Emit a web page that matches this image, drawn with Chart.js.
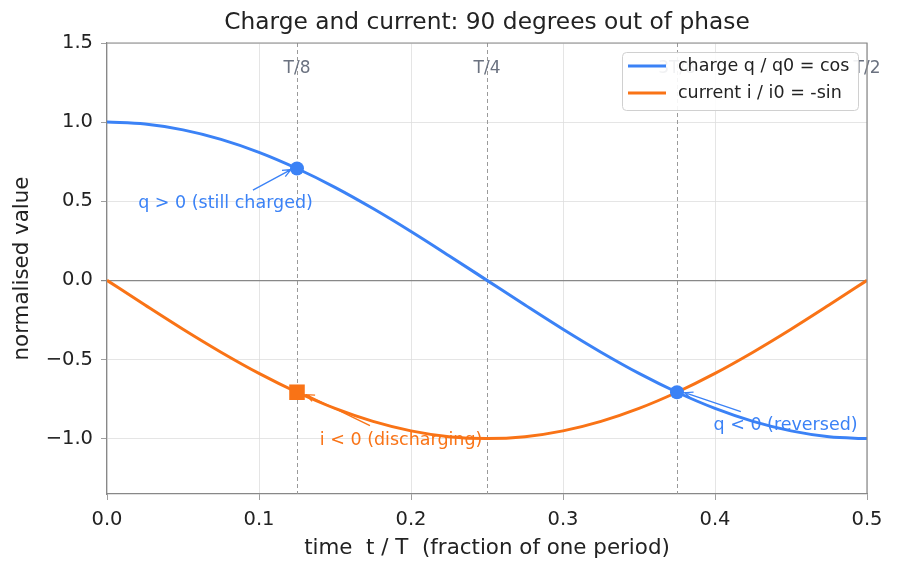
<!DOCTYPE html>
<html>
<head>
<meta charset="utf-8">
<script src="https://cdn.jsdelivr.net/npm/chart.js@4.4.1/dist/chart.umd.min.js"></script>
<style>
  html, body { margin: 0; padding: 0; background: #fff; }
  #wrap { width: 897px; height: 571px; }
</style>
</head>
<body>
<div id="wrap"><canvas id="phaseChart" width="897" height="571"></canvas></div>
<script>
// time as a fraction of one period
const tValues = [0, 0.025, 0.05, 0.075, 0.1, 0.125, 0.15, 0.175, 0.2, 0.225, 0.25,
                 0.275, 0.3, 0.325, 0.35, 0.375, 0.4, 0.425, 0.45, 0.475, 0.5];
// charge q / q0
const chargeValues = [1.0, 0.988, 0.951, 0.891, 0.809, 0.707, 0.588, 0.454, 0.309, 0.156, 0.0,
                      -0.156, -0.309, -0.454, -0.588, -0.707, -0.809, -0.891, -0.951, -0.988, -1.0];
// current i / i0
const currentValues = [0.0, -0.156, -0.309, -0.454, -0.588, -0.707, -0.809, -0.891, -0.951, -0.988, -1.0,
                       -0.988, -0.951, -0.891, -0.809, -0.707, -0.588, -0.454, -0.309, -0.156, 0.0];

// highlighted points
const chargeMarkers = [{ x: 0.125, y: 0.707 }, { x: 0.375, y: -0.707 }];
const currentMarkers = [{ x: 0.125, y: -0.707 }];

// reference lines and their labels
const refTimes = [0.125, 0.25, 0.375];
const refLabels = [
    { x: 0.125, text: 'T/8' },
    { x: 0.25, text: 'T/4' },
    { x: 0.375, text: '3T/8' },
    { x: 0.5, text: 'T/2' }
];

const xTicks = [0, 0.1, 0.2, 0.3, 0.4, 0.5];
const yTicks = [-1.0, -0.5, 0.0, 0.5, 1.0, 1.5];

const BLUE = '#3b82f6';
const ORANGE = '#f97316';
const FONT = "'DejaVu Sans', sans-serif";

// notes: text anchored at left/middle, arrow from tail to head (data coords)
const notes = [
    { text: 'q > 0 (still charged)', color: BLUE, tx: 0.0205, ty: 0.484, from: [0.096, 0.57], to: [0.121, 0.70] },
    { text: 'i < 0 (discharging)', color: ORANGE, tx: 0.140, ty: -1.013, from: [0.173, -0.918], to: [0.131, -0.722] },
    { text: 'q < 0 (reversed)', color: BLUE, tx: 0.399, ty: -0.918, from: [0.417, -0.83], to: [0.380, -0.71] }
];

function pts(xs, ys) {
    return xs.map((x, i) => ({ x: x, y: ys[i] }));
}

const overlay = {
    id: 'overlay',
    beforeDatasetsDraw(chart) {
        const { ctx, chartArea, scales } = chart;
        ctx.save();
        ctx.strokeStyle = '#9a9a9a';
        ctx.lineWidth = 1;
        ctx.setLineDash([4, 3]);
        refTimes.forEach(t => {
            const px = Math.round(scales.x.getPixelForValue(t)) + 0.5;
            ctx.beginPath();
            ctx.moveTo(px, chartArea.top);
            ctx.lineTo(px, chartArea.bottom);
            ctx.stroke();
        });
        ctx.setLineDash([]);
        ctx.fillStyle = '#6b7280';
        ctx.font = '17px ' + FONT;
        ctx.textAlign = 'center';
        ctx.textBaseline = 'middle';
        refLabels.forEach(l => {
            ctx.fillText(l.text, scales.x.getPixelForValue(l.x), chartArea.top + 26);
        });
        ctx.restore();
    },
    afterDatasetsDraw(chart) {
        const { ctx, scales } = chart;
        ctx.save();
        ctx.font = '17.5px ' + FONT;
        ctx.textAlign = 'left';
        ctx.textBaseline = 'middle';
        notes.forEach(n => {
            ctx.fillStyle = n.color;
            ctx.fillText(n.text, scales.x.getPixelForValue(n.tx), scales.y.getPixelForValue(n.ty));
            const x0 = scales.x.getPixelForValue(n.from[0]), y0 = scales.y.getPixelForValue(n.from[1]);
            const x1 = scales.x.getPixelForValue(n.to[0]), y1 = scales.y.getPixelForValue(n.to[1]);
            const a = Math.atan2(y1 - y0, x1 - x0);
            ctx.strokeStyle = n.color;
            ctx.lineWidth = 1.3;
            ctx.beginPath();
            ctx.moveTo(x0, y0);
            ctx.lineTo(x1, y1);
            ctx.moveTo(x1 - 9 * Math.cos(a - 0.4), y1 - 9 * Math.sin(a - 0.4));
            ctx.lineTo(x1, y1);
            ctx.lineTo(x1 - 9 * Math.cos(a + 0.4), y1 - 9 * Math.sin(a + 0.4));
            ctx.stroke();
        });
        ctx.restore();
    },
    afterDraw(chart) {
        const { ctx, chartArea } = chart;
        ctx.save();
        // top and right spines
        ctx.strokeStyle = '#888';
        ctx.lineWidth = 1.2;
        ctx.beginPath();
        ctx.moveTo(chartArea.left, chartArea.top);
        ctx.lineTo(chartArea.right, chartArea.top);
        ctx.lineTo(chartArea.right, chartArea.bottom);
        ctx.stroke();

        // title
        ctx.fillStyle = '#222';
        ctx.font = '23.3px ' + FONT;
        ctx.textAlign = 'center';
        ctx.textBaseline = 'middle';
        ctx.fillText('Charge and current: 90 degrees out of phase', (chartArea.left + chartArea.right) / 2, 23);

        // legend box
        const lx = chartArea.right - 245, ly = chartArea.top + 9, lw = 236, lh = 58;
        ctx.fillStyle = 'rgba(255,255,255,0.9)';
        ctx.strokeStyle = '#d0d0d0';
        ctx.lineWidth = 1;
        ctx.beginPath();
        ctx.roundRect(lx + 0.5, ly + 0.5, lw, lh, 4);
        ctx.fill();
        ctx.stroke();
        const items = chart.data.datasets.filter(d => d.inLegend);
        ctx.font = '17.5px ' + FONT;
        ctx.textAlign = 'left';
        items.forEach((d, i) => {
            const y = ly + 14 + i * 27;
            ctx.strokeStyle = d.borderColor;
            ctx.lineWidth = 3;
            ctx.beginPath();
            ctx.moveTo(lx + 6, y);
            ctx.lineTo(lx + 44, y);
            ctx.stroke();
            ctx.fillStyle = '#222';
            ctx.fillText(d.label, lx + 56, y);
        });
        ctx.restore();
    }
};

const ctx = document.getElementById('phaseChart').getContext('2d');
new Chart(ctx, {
    type: 'line',
    data: {
        datasets: [
            {
                type: 'scatter', label: 'q markers', data: chargeMarkers, order: 0,
                pointStyle: 'circle', pointRadius: 7, backgroundColor: BLUE, borderColor: BLUE, borderWidth: 0
            },
            {
                type: 'scatter', label: 'i markers', data: currentMarkers, order: 0,
                pointStyle: 'rect', pointRadius: 11, backgroundColor: ORANGE, borderColor: ORANGE, borderWidth: 0
            },
            {
                label: 'charge q / q0 = cos', data: pts(tValues, chargeValues), order: 1, inLegend: true,
                borderColor: BLUE, borderWidth: 3, pointRadius: 0, fill: false,
                cubicInterpolationMode: 'monotone'
            },
            {
                label: 'current i / i0 = -sin', data: pts(tValues, currentValues), order: 2, inLegend: true,
                borderColor: ORANGE, borderWidth: 3, pointRadius: 0, fill: false,
                cubicInterpolationMode: 'monotone'
            }
        ]
    },
    options: {
        responsive: false,
        animation: false,
        layout: { padding: { top: 43, right: 30, left: 0, bottom: 0 } },
        plugins: {
            legend: { display: false },
            tooltip: { enabled: false },
            title: { display: false }
        },
        scales: {
            x: {
                type: 'linear', min: 0, max: 0.5,
                afterBuildTicks: s => { s.ticks = xTicks.map(v => ({ value: v })); },
                afterFit: s => { s.height = 77; },
                ticks: {
                    color: '#222', font: { family: FONT, size: 19.5 }, padding: 8,
                    maxRotation: 0, callback: v => v.toFixed(1)
                },
                grid: { color: '#dedede', lineWidth: 0.8, tickColor: '#888', tickLength: 6 },
                border: { color: '#888', width: 1.2 },
                title: {
                    display: true, text: 'time  t / T  (fraction of one period)',
                    color: '#222', font: { family: FONT, size: 21.4 }, padding: { top: 2, bottom: 10 }
                }
            },
            y: {
                type: 'linear', min: -1.35, max: 1.5,
                afterBuildTicks: s => { s.ticks = yTicks.map(v => ({ value: v })); },
                afterFit: s => { s.width = 107; },
                ticks: {
                    color: '#222', font: { family: FONT, size: 19.5 }, padding: 8,
                    callback: v => (v < 0 ? '\u2212' : '') + Math.abs(v).toFixed(1)
                },
                grid: {
                    color: c => (c.tick && c.tick.value === 0) ? '#888' : '#dedede',
                    lineWidth: c => (c.tick && c.tick.value === 0) ? 1.2 : 0.8,
                    tickColor: '#888', tickLength: 6
                },
                border: { color: '#888', width: 1.2 },
                title: {
                    display: true, text: 'normalised value',
                    color: '#222', font: { family: FONT, size: 21.4 }, padding: { top: 10, bottom: 4 }
                }
            }
        }
    },
    plugins: [overlay]
});
</script>
</body>
</html>
